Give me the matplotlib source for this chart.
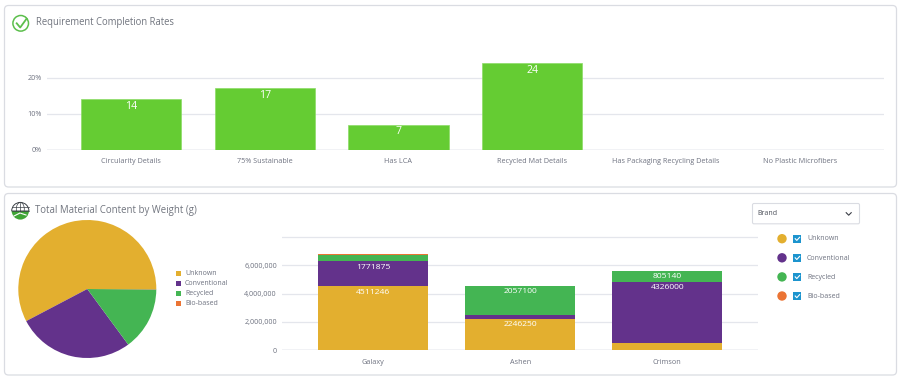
"""Sustainability dashboard: requirement rates and material weight."""

import matplotlib
matplotlib.use("Agg")
import matplotlib.pyplot as plt
import numpy as np
from matplotlib.patches import Circle, Ellipse, FancyBboxPatch, Rectangle, Wedge

plt.rcParams["font.family"] = ["Open Sans", "DejaVu Sans"]

# Requirement chart
req_labels = ["Circularity Details", "75% Sustainable", "Has LCA", "Recycled Mat Details",
              "Has Packaging Recycling Details", "No Plastic Microfibers"]
req_values = [14, 17, 7, 24, 0, 0]
req_ticks = [0, 10, 20]

# Material chart
materials = ["Unknown", "Conventional", "Recycled", "Bio-based"]
pie_share = [57.7, 27.4, 14.8, 0.1]
brands = ["Galaxy", "Ashen", "Crimson"]
unknown = [4511246, 2246250, 494000]
conventional = [1771875, 240000, 4326000]
recycled = [470000, 2057100, 805140]
biobased = [70000, 0, 0]
material_ticks = [0, 2000000, 4000000, 6000000, 8000000]
material_ticklabels = ["0", "2,000,000", "4,000,000", "6,000,000", ""]
label_min = 700000

GREEN_BAR = "#65CC33"
COLORS = ["#E3AF2F", "#63328B", "#44B553", "#EB7434"]
GRID = "#E4E6EC"
TEXT = "#6E7280"
W, H = 900, 380

fig = plt.figure(figsize=(W / 100, H / 100), dpi=100, facecolor="white")


def px_axes(x0, y0, x1, y1):
    """Axes placed by pixel box, y measured from the top."""
    return fig.add_axes([x0 / W, 1 - y1 / H, (x1 - x0) / W, (y1 - y0) / H])


def style_axis(ax, ticks, ticklabels, cats):
    ax.set_yticks(ticks, ticklabels)
    ax.set_xticks(range(len(cats)), cats)
    ax.tick_params(length=0, labelsize=5.2, labelcolor=TEXT, pad=3.6)
    ax.tick_params(axis="x", pad=6)
    ax.grid(axis="y", color=GRID, lw=0.9)
    ax.set_axisbelow(True)
    ax.patch.set_alpha(0)
    for spine in ax.spines.values():
        spine.set_visible(False)
    ax.get_ygridlines()[0].set_color("#F0F1F4")
    ax.get_ygridlines()[0].set_linewidth(1.3)


# Page furniture in pixel coordinates
bg = fig.add_axes([0, 0, 1, 1])
bg.set_xlim(0, W)
bg.set_ylim(H, 0)
bg.axis("off")
for x, y, w, h in [(4.5, 5.5, 892, 181.5), (4.5, 193.5, 892, 181.5)]:
    bg.add_patch(FancyBboxPatch((x + 4, y + 4), w - 8, h - 8, boxstyle="round,pad=4,rounding_size=4",
                                fc="white", ec="#DADCE2", lw=0.9))
bg.text(35.5, 22, "Requirement Completion Rates", fontsize=6.85, color="#71757F", va="center")
bg.text(35, 210.5, "Total Material Content by Weight (g)", fontsize=6.9, color="#71757F", va="center")

# Check icon
bg.add_patch(Circle((20.7, 23.3), 7.8, fc="white", ec="#5CBF4C", lw=1.1))
bg.plot([16.7, 20.2, 26.5], [23.3, 27.5, 18.8], color="#5CBF4C", lw=1.3)

# Globe icon, the y axis of bg runs downward so the wedge angles are mirrored
bg.add_patch(Wedge((20.3, 211), 8.6, 180, 360, fc="white", ec="#3B4046", lw=0.7))
bg.add_patch(Ellipse((20.3, 209), 8, 13, fc="none", ec="#3B4046", lw=0.5))
bg.plot([12, 28.5], [207, 207], color="#3B4046", lw=0.5)
bg.plot([20.3, 20.3], [202.5, 213], color="#3B4046", lw=0.5)
bg.plot([12, 28.5], [211, 211], color="#3B4046", lw=0.5)
bg.add_patch(Wedge((20.3, 211), 8.6, 0, 180, fc="#3FA535", ec="none"))
bg.plot([14, 20, 26], [216, 213, 215], color="white", lw=0.8)

# Requirement bars
ax1 = px_axes(47, 59.4, 884, 150)
x1 = np.arange(len(req_labels))
bars = ax1.bar(x1, req_values, width=0.75, color=GREEN_BAR, edgecolor="#8CDB66", linewidth=0.5, zorder=3)
ax1.set_xlim(-0.628, 5.63)
ax1.set_ylim(0, 25)
style_axis(ax1, req_ticks, [f"{t}%" for t in req_ticks], req_labels)
for rect, value in zip(bars, req_values):
    if value:
        ax1.annotate(str(value), (rect.get_x() + rect.get_width() / 2, value), xytext=(0, -1.2),
                     textcoords="offset points", ha="center", va="top", color="white", fontsize=7.6, zorder=4)

# Pie
ax2 = px_axes(18.3, 220, 156.3, 358)
ax2.pie(pie_share, colors=COLORS, startangle=0, counterclock=True, radius=1)
ax2.set_xlim(-1, 1)
ax2.set_ylim(-1, 1)
for i, name in enumerate(materials):
    y = 273.3 + i * 10.05
    bg.add_patch(Rectangle((175.8, y - 2.4), 4.8, 4.8, fc=COLORS[i], ec="none"))
    bg.text(185, y, name, fontsize=5, color=TEXT, va="center")

# Stacked bars
ax3 = px_axes(282, 230, 758, 350.3)
x3 = np.arange(len(brands))
bottom = np.zeros(len(brands))
for series, color in zip([unknown, conventional, recycled, biobased], COLORS):
    values = np.array(series, dtype=float)
    ax3.bar(x3, values, width=0.748, bottom=bottom, color=color, linewidth=0, zorder=3)
    bottom += values
    for xi, value, top in zip(x3, values, bottom):
        if value >= label_min:
            ax3.annotate(str(int(value)), (xi, top), xytext=(0, -1.6), textcoords="offset points",
                         ha="center", va="top", color="white", fontsize=6.1, zorder=4)
ax3.set_xlim(-0.621, 2.617)
ax3.set_ylim(0, 8500000)
style_axis(ax3, material_ticks, material_ticklabels, brands)

# Brand dropdown
bg.add_patch(FancyBboxPatch((753, 204), 106, 19.3, boxstyle="round,pad=0.5,rounding_size=1.5",
                            fc="white", ec="#DADCE2", lw=0.8))
bg.text(757, 213.7, "Brand", fontsize=5, color="#4A4E58", va="center")
bg.plot([846.2, 848.7, 851.2], [212.7, 215.2, 212.7], color="#3A3D45", lw=0.8)

# Interactive legend
for i, name in enumerate(materials):
    y = 238.7 + i * 19.1
    bg.add_patch(Circle((782, y), 4.7, fc=COLORS[i], ec="none"))
    bg.add_patch(Rectangle((793, y - 4), 8.4, 8.4, fc="#1C94CE", ec="none"))
    bg.plot([795.2, 796.8, 799.6], [y, y + 1.7, y - 1.4], color="white", lw=0.8)
    bg.text(807, y + 0.3, name, fontsize=5, color=TEXT, va="center")

fig.savefig("out.png", dpi=100, facecolor="white")
